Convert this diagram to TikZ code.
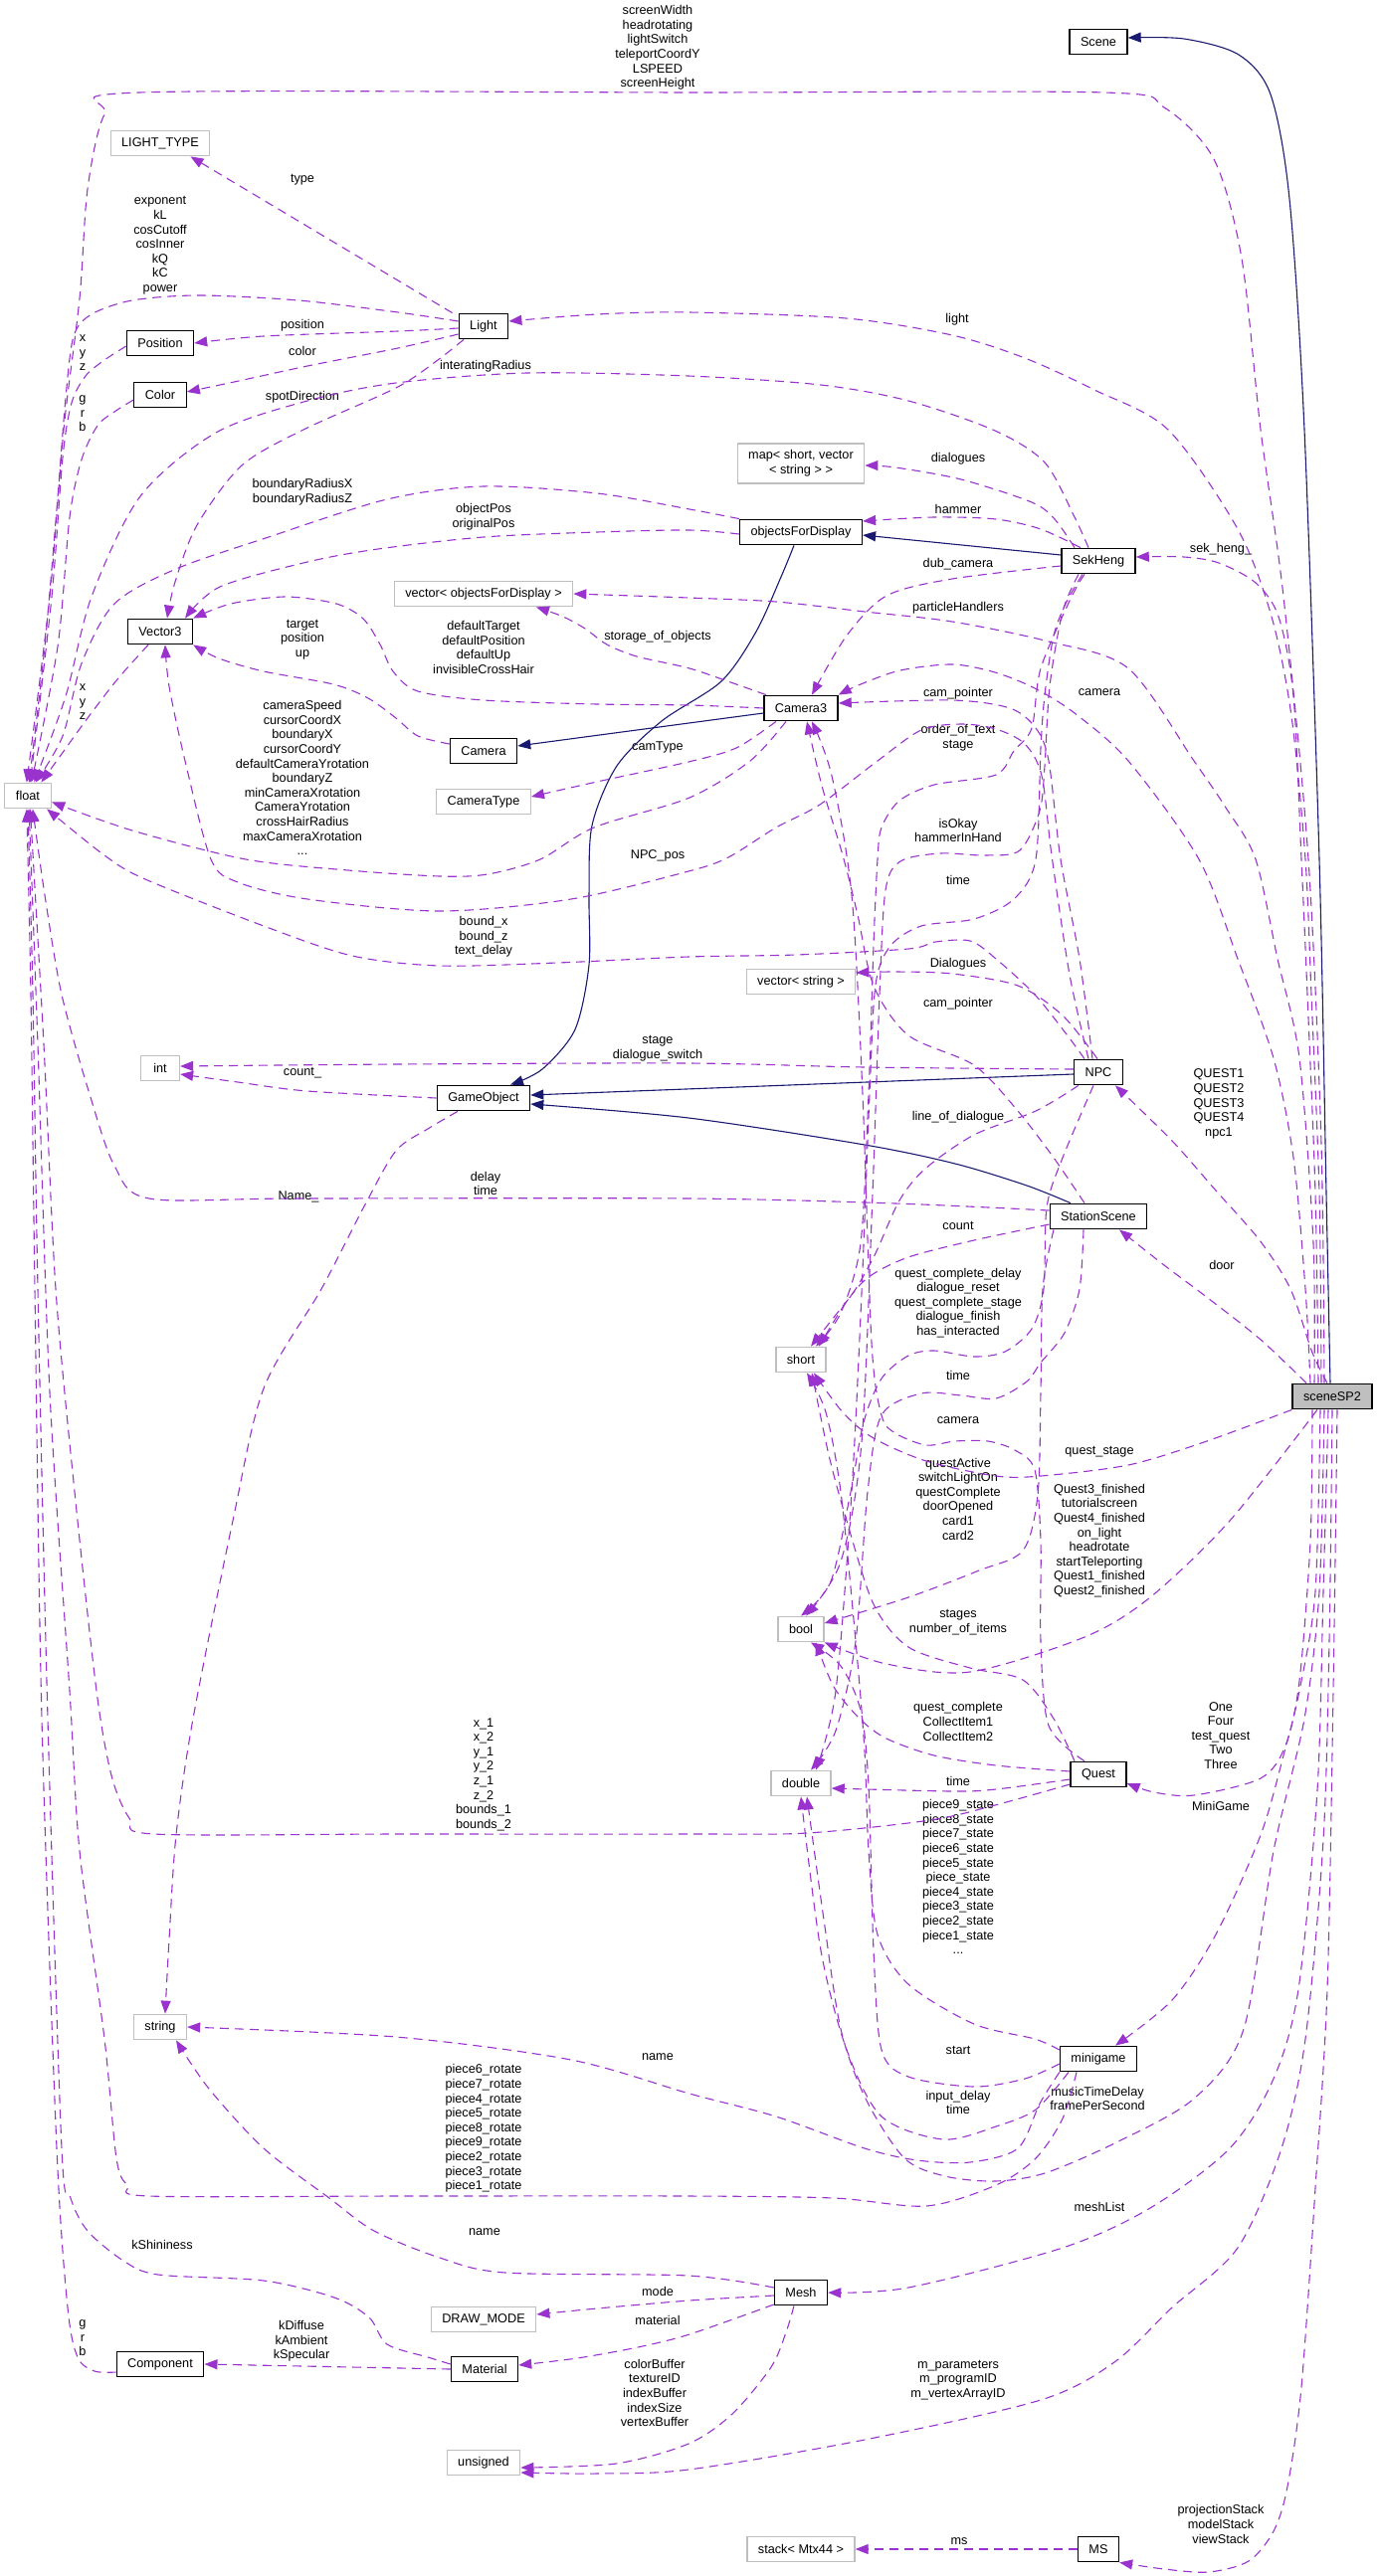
\documentclass[tikz,border=0pt]{standalone}
\usepackage{fontspec}
\setmainfont{Liberation Sans}
\usetikzlibrary{arrows.meta}
\definecolor{edgepurple}{HTML}{9A32CD}
\definecolor{edgenavy}{HTML}{191970}
\definecolor{boxgray}{HTML}{BFBFBF}

\begin{document}
\begin{tikzpicture}[x=1pt,y=-1pt,font=\fontsize{12.7}{14.6}\selectfont]
\tikzstyle{cls}=[draw=black,line width=1.3pt,fill=white,minimum height=25.5pt,inner xsep=11pt,inner ysep=0pt]
\tikzstyle{ext}=[cls,draw=boxgray]
\tikzstyle{lbl}=[align=center,inner sep=0pt]
\tikzstyle{usage}=[draw=edgepurple,line width=1.1pt,dash pattern=on 9pt off 6pt,-{Triangle[length=13pt,width=10pt]}]
\tikzstyle{inherit}=[draw=edgenavy,line width=1.1pt,-{Triangle[length=13pt,width=10pt]}]
\tikzstyle{sm}=[smooth,tension=0.5]
\useasboundingbox (0,0) rectangle (1385,2590);

% classes and types
\node[cls] (scene) at (1104,42) {Scene};
\node[ext] (lighttype) at (161,144) {LIGHT\_TYPE};
\node[cls] (light) at (486,328) {Light};
\node[cls] (position) at (161,345) {Position};
\node[cls] (color) at (161,397) {Color};
\node[ext,align=center,minimum height=40pt,inner ysep=3pt] (map) at (805,466) {map< short, vector\\< string > >};
\node[cls] (objd) at (805,535) {objectsForDisplay};
\node[cls] (sekheng) at (1104,564) {SekHeng};
\node[ext] (vecobj) at (486,597) {vector< objectsForDisplay >};
\node[cls] (vector3) at (161,635) {Vector3};
\node[cls] (camera3) at (805,712) {Camera3};
\node[cls] (camera) at (486,755) {Camera};
\node[ext,minimum width=47pt] (float) at (28,800) {float};
\node[ext] (cameratype) at (486,806) {CameraType};
\node[ext] (vecstr) at (805,987) {vector< string >};
\node[ext,minimum width=39pt] (int) at (161,1074) {int};
\node[cls] (npc) at (1104,1078) {NPC};
\node[cls] (gameobject) at (486,1104) {GameObject};
\node[cls] (station) at (1104,1223) {StationScene};
\node[ext] (short) at (805,1367) {short};
\node[cls,fill=boxgray] (scenesp2) at (1339,1404) {sceneSP2};
\node[ext] (bool) at (805,1638) {bool};
\node[cls] (quest) at (1104,1784) {Quest};
\node[ext] (double) at (805,1793) {double};
\node[ext] (string) at (161,2038) {string};
\node[cls] (minigame) at (1104,2070) {minigame};
\node[cls] (mesh) at (805,2305) {Mesh};
\node[ext] (drawmode) at (486,2332) {DRAW\_MODE};
\node[cls] (component) at (161,2377) {Component};
\node[cls] (material) at (487,2382) {Material};
\node[ext] (unsigned) at (486,2476) {unsigned};
\node[ext] (stack) at (805,2563) {stack< Mtx44 >};
\node[cls] (ms) at (1104,2563) {MS};

% member labels
\node[lbl] (lscreen) at (661,48) {screenWidth\\headrotating\\lightSwitch\\teleportCoordY\\LSPEED\\screenHeight};
\node[lbl] (ltype) at (304,181) {type};
\node[lbl] (lexp) at (161,247) {exponent\\kL\\cosCutoff\\cosInner\\kQ\\kC\\power};
\node[lbl] (lpos) at (304,327) {position};
\node[lbl] (lcol) at (304,353) {color};
\node[lbl] (llight) at (962,321) {light};
\node[lbl] (lrad) at (488,368) {interatingRadius};
\node[lbl] (lspot) at (304,399) {spotDirection};
\node[lbl] (lxyza) at (83,355) {x\\y\\z};
\node[lbl] (lgrba) at (83,416) {g\\r\\b};
\node[lbl] (ldia) at (963,461) {dialogues};
\node[lbl] (lbnd) at (304,495) {boundaryRadiusX\\boundaryRadiusZ};
\node[lbl] (lham) at (963,512) {hammer};
\node[lbl] (lobj) at (486,520) {objectPos\\originalPos};
\node[lbl] (lsek) at (1227,552) {sek\_heng\_};
\node[lbl] (ldub) at (963,567) {dub\_camera};
\node[lbl] (lpart) at (963,611) {particleHandlers};
\node[lbl] (ltgt) at (304,643) {target\\position\\up};
\node[lbl] (lstor) at (661,640) {storage\_of\_objects};
\node[lbl] (ldef) at (486,651) {defaultTarget\\defaultPosition\\defaultUp\\invisibleCrossHair};
\node[lbl] (lxyzb) at (83,706) {x\\y\\z};
\node[lbl] (lcpa) at (963,697) {cam\_pointer};
\node[lbl] (lcama) at (1105,696) {camera};
\node[lbl] (lord) at (963,742) {order\_of\_text\\stage};
\node[lbl] (lctype) at (661,751) {camType};
\node[lbl] (lspeed) at (304,782) {cameraSpeed\\cursorCoordX\\boundaryX\\cursorCoordY\\defaultCameraYrotation\\boundaryZ\\minCameraXrotation\\CameraYrotation\\crossHairRadius\\maxCameraXrotation\\...};
\node[lbl] (lok) at (963,835) {isOkay\\hammerInHand};
\node[lbl] (lnpos) at (661,860) {NPC\_pos};
\node[lbl] (ltima) at (963,885) {time};
\node[lbl] (lbx) at (486,942) {bound\_x\\bound\_z\\text\_delay};
\node[lbl] (lDia) at (963,969) {Dialogues};
\node[lbl] (lcpb) at (963,1009) {cam\_pointer};
\node[lbl] (lstage) at (661,1054) {stage\\dialogue\_switch};
\node[lbl] (lcnt) at (304,1079) {count\_};
\node[lbl] (lquest) at (1225,1110) {QUEST1\\QUEST2\\QUEST3\\QUEST4\\npc1};
\node[lbl] (lline) at (963,1123) {line\_of\_dialogue};
\node[lbl] (ldelay) at (488,1190) {delay\\time};
\node[lbl] (lname) at (300,1203) {Name\_};
\node[lbl] (lcount) at (963,1232) {count};
\node[lbl] (ldoor) at (1228,1272) {door};
\node[lbl] (lqcd) at (963,1310) {quest\_complete\_delay\\dialogue\_reset\\quest\_complete\_stage\\dialogue\_finish\\has\_interacted};
\node[lbl] (ltimb) at (963,1383) {time};
\node[lbl] (lcamb) at (963,1428) {camera};
\node[lbl] (lqst) at (1105,1460) {quest\_stage};
\node[lbl] (lact) at (963,1507) {questActive\\switchLightOn\\questComplete\\doorOpened\\card1\\card2};
\node[lbl] (lfin) at (1105,1549) {Quest3\_finished\\tutorialscreen\\Quest4\_finished\\on\_light\\headrotate\\startTeleporting\\Quest1\_finished\\Quest2\_finished};
\node[lbl] (lstg) at (963,1631) {stages\\number\_of\_items};
\node[lbl] (lqc) at (963,1731) {quest\_complete\\CollectItem1\\CollectItem2};
\node[lbl] (lone) at (1227,1745) {One\\Four\\test\_quest\\Two\\Three};
\node[lbl] (lx1) at (486,1784) {x\_1\\x\_2\\y\_1\\y\_2\\z\_1\\z\_2\\bounds\_1\\bounds\_2};
\node[lbl] (ltimc) at (963,1791) {time};
\node[lbl] (lmini) at (1227,1816) {MiniGame};
\node[lbl] (lpst) at (963,1887) {piece9\_state\\piece8\_state\\piece7\_state\\piece6\_state\\piece5\_state\\piece\_state\\piece4\_state\\piece3\_state\\piece2\_state\\piece1\_state\\...};
\node[lbl] (lstart) at (963,2061) {start};
\node[lbl] (lnamea) at (661,2068) {name};
\node[lbl] (lmus) at (1103,2110) {musicTimeDelay\\framePerSecond};
\node[lbl] (linp) at (963,2114) {input\_delay\\time};
\node[lbl] (lrot) at (486,2140) {piece6\_rotate\\piece7\_rotate\\piece4\_rotate\\piece5\_rotate\\piece8\_rotate\\piece9\_rotate\\piece2\_rotate\\piece3\_rotate\\piece1\_rotate};
\node[lbl] (lmesh) at (1105,2219) {meshList};
\node[lbl] (lnameb) at (487,2244) {name};
\node[lbl] (lshin) at (163,2257) {kShininess};
\node[lbl] (lmode) at (661,2304) {mode};
\node[lbl] (lmat) at (661,2333) {material};
\node[lbl] (lgrbb) at (83,2351) {g\\r\\b};
\node[lbl] (lkd) at (303,2354) {kDiffuse\\kAmbient\\kSpecular};
\node[lbl] (lbuf) at (658,2406) {colorBuffer\\textureID\\indexBuffer\\indexSize\\vertexBuffer};
\node[lbl] (lprog) at (963,2393) {m\_parameters\\m\_programID\\m\_vertexArrayID};
\node[lbl] (lstk) at (1227,2538) {projectionStack\\modelStack\\viewStack};
\node[lbl] (lms) at (964,2555) {ms};

% inheritance
\draw[inherit] plot[sm] coordinates {([xshift=-2pt]scenesp2.north) (1333,1200) (1326,864) (1311,432) (1296,200) (1277,95) (1245,55) (1190,39) ([yshift=4pt]scene.east)};
\draw[inherit] ([yshift=6pt]sekheng.west) -- ([yshift=-3pt]objd.east);
\draw[inherit] plot[sm] coordinates {([xshift=-7pt]objd.south) (785,580) (760,635) (725,685) (665,725) (620,770) (595,830) (592,900) (592,970) (578,1035) (545,1075) ([xshift=27pt]gameobject.north)};
\draw[inherit] ([yshift=-5pt]camera3.west) -- ([yshift=5pt]camera.east);
\draw[inherit] ([yshift=-2pt]npc.west) -- ([yshift=3pt]gameobject.east);
\draw[inherit] plot[sm] coordinates {([xshift=-28pt]station.north) (1032,1192) (960,1170) (869,1151) (692,1124) ([yshift=-6pt]gameobject.east)};

% sceneSP2 members
\draw[usage] plot[sm] coordinates {([xshift=-8pt]scenesp2.north) (1328,1150) (1315,864) (1290,600) (1267,432) (1248,260) (1220,160) (1170,108) (1110,93) (700,93) (140,93) (105,115) (88,190) (80,300) (64,432) (50,600) (float.95)};
\draw[usage] plot[sm] coordinates {([xshift=-11pt]scenesp2.north) (1326,1200) (1318,1000) (1312,864) (1298,720) (1278,620) (1244,532) (1174,432) (1100,392) (1030,360) (957,337) (850,320) (692,314) (600,316) ([yshift=5pt]light.east)};
\draw[usage] plot[sm] coordinates {([xshift=-14pt]scenesp2.north) (1322,1200) (1314,1000) (1308,864) (1300,700) (1285,620) (1262,586) (1225,566) (1190,560) ([yshift=4pt]sekheng.east)};
\draw[usage] plot[sm] coordinates {([xshift=-18pt]scenesp2.north) (1320,1250) (1306,1064) (1284,964) (1262,864) (1232,812) (1200,765) (1134,672) (1054,645) (957,625) (869,615) (780,605) (692,601) (vecobj.east)};
\draw[usage] plot[sm] coordinates {([xshift=-22pt]scenesp2.north) (1312,1296) (1300,1164) (1280,1064) (1244,964) (1205,864) (1134,765) (1080,717) (1040,692) (1000,676) (957,668) (905,674) (865,688) (camera3.north east)};
\draw[usage] plot[sm] coordinates {([xshift=-5pt]scenesp2.north) (1319,1360) (1297,1296) (1266,1247) (1222,1197) (1178,1147) ([xshift=17pt]npc.south)};
\draw[usage] plot[sm] coordinates {([xshift=-26pt]scenesp2.north) (1266,1346) (1210,1302) (1170,1272) ([xshift=21pt]station.south)};
\draw[usage] plot[sm] coordinates {(scenesp2.south west) (1210,1450) (1134,1473) (1046,1484) (1001,1484) (931,1469) (878,1446) (847,1420) ([xshift=13pt]short.south)};
\draw[usage] plot[sm] coordinates {([xshift=-15pt]scenesp2.south) (1236,1529) (1156,1606) (1090,1646) (975,1681) (891,1673) (bool.south east)};
\draw[usage] plot[sm] coordinates {([xshift=-20pt]scenesp2.south) (1317,1550) (1306,1690) (1292,1755) (1267,1788) (1200,1805) (1160,1802) ([yshift=-9pt]quest.east)};
\draw[usage] plot[sm] coordinates {([xshift=-12pt]scenesp2.south) (1322,1600) (1306,1700) (1290,1765) (1267,1845) (1222,1945) (1178,2011) ([xshift=17pt]minigame.north)};
\draw[usage] plot[sm] coordinates {([xshift=-8pt]scenesp2.south) (1326,1600) (1311,1728) (1280,1861) (1250,2040) (1200,2110) (1120,2155) (1050,2185) (1000,2193) (950,2188) (909,2170) (870,2110) (845,2040) (828,1930) ([xshift=6pt]double.south)};
\draw[usage] plot[sm] coordinates {([xshift=-4pt]scenesp2.south) (1330,1600) (1324,1800) (1305,2000) (1280,2090) (1236,2160) (1156,2220) (1068,2260) (913,2300) (mesh.east)};
\draw[usage] plot[sm] coordinates {(scenesp2.south) (1336,1650) (1330,1850) (1312,2050) (1288,2160) (1244,2260) (1178,2320) (1120,2375) (1046,2413) (869,2453) (692,2483) (600,2487) ([yshift=-10pt]unsigned.east)};
\draw[usage] plot[sm] coordinates {([xshift=5pt]scenesp2.south) (1340,1700) (1334,2000) (1322,2200) (1308,2400) (1294,2500) (1280,2545) (1255,2575) (1215,2586) (1170,2583) (ms.south east)};
\draw[usage] (ms.west) -- (stack.east);

% Light
\draw[usage] ([xshift=-6pt]light.north west) -- ([xshift=-20pt]lighttype.south east);
\draw[usage] plot[sm] coordinates {([yshift=-2pt]light.west) (400,333) (265,338) (position.east)};
\draw[usage] plot[sm] coordinates {([yshift=-8pt]light.west) (400,350) (309,368) (240,383) ([yshift=3pt]color.east)};
\draw[usage] plot[sm] coordinates {([xshift=-20pt]light.south) (440,362) (398,390) (305,432) (243,468) (198,528) (176,585) ([xshift=7pt]vector3.north)};
\draw[usage] plot[sm] coordinates {([yshift=5pt]light.west) (400,314) (300,302) (200,297) (133,302) (92,316) (74,338) (66,400) (58,500) (45,650) (float.85)};
\draw[usage] plot[sm] coordinates {([yshift=-3pt]position.west) (105,362) (86,378) (72,405) (63,460) (52,600) (float.80)};
\draw[usage] plot[sm] coordinates {([yshift=-5pt]color.west) (115,414) (98,428) (82,462) (70,520) (58,650) (float.75)};

% objectsForDisplay, Camera3, Camera, Vector3
\draw[usage] plot[sm] coordinates {(objd.north west) (693,512) (600,496) (486,489) (389,502) (270,540) (177,572) (115,607) (82,667) (63,740) (float.60)};
\draw[usage] plot[sm] coordinates {([yshift=-2pt]objd.west) (693,533) (600,535) (486,540) (380,552) (309,565) (221,590) ([xshift=25pt]vector3.north)};
\draw[usage] plot[sm] coordinates {([xshift=-12pt]vector3.south) (118,683) (88,722) (62,758) (float.45)};
\draw[usage] plot[sm] coordinates {(camera3.west) (693,709) (600,708) (486,704) (420,695) (395,675) (382,648) (365,622) (338,607) (287,600) (232,607) (vector3.north east)};
\draw[usage] plot[sm] coordinates {([yshift=7pt]camera.west) (420,740) (398,722) (370,702) (335,688) (265,675) (220,662) (vector3.south east)};
\draw[usage] plot[sm] coordinates {([xshift=-35pt]camera3.north) (740,688) (693,672) (640,660) (610,648) (588,632) (566,620) ([xshift=53pt]vecobj.south)};
\draw[usage] plot[sm] coordinates {([xshift=-25pt]camera3.south) (740,752) (692,766) (600,786) ([yshift=5pt]cameratype.east)};
\draw[usage] plot[sm] coordinates {([xshift=-15pt]camera3.south) (754,765) (693,802) (597,832) (543,864) (490,879) (442,881) (350,875) (247,864) (133,835) (float.-15)};

% SekHeng
\draw[usage] plot[sm] coordinates {([xshift=-10pt]sekheng.north) (1080,520) (1050,465) (1000,433) (913,403) (825,387) (692,378) (530,375) (398,385) (309,403) (217,435) (141,499) (92,600) (66,700) (float.65)};
\draw[usage] plot[sm] coordinates {([xshift=-24pt]sekheng.north) (1060,522) (1037,505) (966,482) (900,470) ([yshift=-2pt]map.east)};
\draw[usage] plot[sm] coordinates {([xshift=-18pt]sekheng.north) (1046,532) (1001,522) (939,520) ([yshift=11pt]objd.east)};
\draw[usage] plot[sm] coordinates {([yshift=-5pt]sekheng.west) (957,582) (891,599) (851,639) ([xshift=11pt]camera3.north)};
\draw[usage] plot[sm] coordinates {([xshift=-14pt]sekheng.south) (1076,602) (1046,672) (1037,732) (1019,755) (1001,779) (939,789) (904,805) (886,832) (882,864) (878,950) (873,1100) (865,1250) (845,1320) ([xshift=15pt]short.north)};
\draw[usage] plot[sm] coordinates {([xshift=-20pt]sekheng.south) (1068,615) (1055,690) (1050,770) (1045,815) (1025,855) (990,860) (945,858) (905,866) (890,895) (884,1000) (877,1200) (866,1450) (845,1570) ([xshift=5pt]bool.north)};
\draw[usage] plot[sm] coordinates {([xshift=-16pt]sekheng.south) (1072,605) (1059,639) (1050,699) (1046,752) (1041,864) (1019,904) (979,924) (926,931) (895,951) (880,990) (874,1100) (866,1300) (856,1500) (840,1700) ([xshift=15pt]double.north)};

% NPC
\draw[usage] plot[sm] coordinates {([xshift=-14pt]npc.north) (1072,1040) (1040,1000) (1001,964) (975,946) (940,947) (913,954) (800,960) (692,962) (560,968) (442,971) (354,961) (265,931) (146,884) (105,860) (float.-35)};
\draw[usage] plot[sm] coordinates {([xshift=-10pt]npc.north) (1075,980) (1057,860) (1047,780) (1030,748) (1001,733) (966,728) (926,734) (882,765) (824,809) (780,832) (732,862) (692,876) (574,904) (442,916) (309,904) (239,887) (212,864) (186,765) (170,690) ([xshift=5pt]vector3.south)};
\draw[usage] plot[sm] coordinates {([xshift=-6pt]npc.north) (1085,964) (1066,864) (1054,765) (1041,732) (1015,712) (957,704) ([yshift=5pt]camera3.east)};
\draw[usage] plot[sm] coordinates {([xshift=-1pt]npc.north) (1068,1021) (1023,991) (957,979) (900,977) ([yshift=9pt]vecstr.east)};
\draw[usage] plot[sm] coordinates {([yshift=3pt]npc.west) (869,1073) (692,1069) (400,1070) ([yshift=2pt]int.east)};
\draw[usage] plot[sm] coordinates {([xshift=-20pt]npc.south) (1041,1117) (979,1141) (930,1175) (904,1207) (880,1260) (860,1296) (840,1322) ([xshift=10pt]short.north)};
\draw[usage] plot[sm] coordinates {([xshift=-5pt]npc.south) (1068,1164) (1052,1214) (1049,1296) (1037,1336) (1010,1359) (979,1364) (939,1358) (913,1363) (886,1386) (868,1430) (855,1500) (835,1590) (bool.north)};

% StationScene
\draw[usage] plot[sm] coordinates {([yshift=6pt]station.west) (900,1210) (692,1205) (300,1205) (150,1205) (115,1172) (90,1100) (62,1000) (45,900) (float.-70)};
\draw[usage] plot[sm] coordinates {([xshift=-14pt]station.north) (1059,1164) (1023,1117) (979,1071) (913,1041) (878,991) (862,920) (847,860) (826,790) ([xshift=6pt]camera3.south)};
\draw[usage] plot[sm] coordinates {([yshift=-8pt]station.west) (979,1247) (913,1264) (873,1284) (850,1310) ([xshift=18pt]short.north)};
\draw[usage] plot[sm] coordinates {([xshift=-15pt]station.south) (1085,1296) (1070,1340) (1046,1370) (1032,1389) (1001,1406) (966,1403) (926,1401) (886,1423) (872,1500) (860,1650) (840,1740) ([xshift=10pt]double.north)};
\draw[usage] plot[sm] coordinates {([xshift=-45pt]station.south) (1048,1296) (1046,1400) (1043,1503) (1028,1559) (984,1579) (913,1606) ([yshift=6pt]bool.east)};

% Quest
\draw[usage] plot[sm] coordinates {([xshift=-14pt]quest.north) (1054,1735) (1046,1650) (1046,1550) (1040,1478) (1020,1458) (993,1449) (960,1449) (931,1453) (900,1441) (886,1423) (876,1350) (867,1100) (856,900) (836,780) ([xshift=11pt]camera3.south)};
\draw[usage] plot[sm] coordinates {([xshift=-24pt]quest.north) (1059,1728) (1028,1689) (975,1677) (913,1656) (878,1613) (851,1529) (833,1463) ([xshift=11pt]short.south)};
\draw[usage] plot[sm] coordinates {([yshift=3pt]quest.west) (1001,1775) (939,1765) (891,1748) (864,1728) (838,1696) ([xshift=15pt]bool.south)};
\draw[usage] plot[sm] coordinates {([yshift=-5pt]quest.west) (1001,1799) (957,1801) ([yshift=-5pt]double.east)};
\draw[usage] plot[sm] coordinates {([yshift=-10pt]quest.west) (1000,1815) (935,1830) (811,1843) (692,1844) (400,1844) (155,1844) (130,1828) (112,1785) (97,1700) (75,1500) (56,1296) (44,1050) (float.-80)};

% minigame
\draw[usage] plot[sm] coordinates {([yshift=9pt]minigame.west) (1040,2050) (979,2035) (913,1995) (882,1945) (873,1861) (869,1761) (860,1650) (845,1500) (830,1420) ([xshift=6pt]short.south)};
\draw[usage] plot[sm] coordinates {([yshift=-5pt]minigame.west) (1030,2090) (979,2098) (913,2088) (886,2061) (878,1961) (873,1795) (865,1720) (845,1675) ([xshift=10pt]bool.south)};
\draw[usage] plot[sm] coordinates {([xshift=-30pt]minigame.south) (1041,2121) (1001,2138) (948,2151) (886,2128) (851,2061) (825,1961) (double.south)};
\draw[usage] plot[sm] coordinates {(minigame.south west) (1045,2115) (1023,2160) (975,2174) (922,2172) (869,2160) (780,2128) (693,2105) (574,2071) (398,2048) (string.east)};
\draw[usage] plot[sm] coordinates {([xshift=-22pt]minigame.south) (1068,2130) (1041,2170) (1001,2197) (931,2218) (838,2210) (692,2208) (400,2208) (150,2208) (128,2197) (117,2170) (105,2050) (80,1861) (70,1700) (50,1400) (38,1050) (float.-85)};

% Mesh, Material, Component
\draw[usage] plot[sm] coordinates {([yshift=5pt]mesh.west) (692,2288) (508,2285) (442,2270) (376,2243) (331,2210) (265,2160) (210,2100) ([xshift=16pt]string.south)};
\draw[usage] plot[sm] coordinates {([yshift=-3pt]mesh.west) (693,2313) (600,2321) ([yshift=5pt]drawmode.east)};
\draw[usage] plot[sm] coordinates {([yshift=-12pt]mesh.west) (693,2347) (641,2360) (580,2371) ([yshift=4pt]material.east)};
\draw[usage] plot[sm] coordinates {([xshift=-7pt]mesh.south) (790,2345) (775,2380) (736,2427) (692,2457) (619,2477) ([yshift=-5pt]unsigned.east)};
\draw[usage] (material.west) -- (component.east);
\draw[usage] plot[sm] coordinates {([yshift=5pt]material.west) (430,2370) (389,2357) (371,2330) (336,2310) (265,2293) (159,2287) (124,2273) (88,2243) (71,2210) (62,2160) (48,1728) (38,1296) (33,1000) (float.-90)};
\draw[usage] plot[sm] coordinates {([yshift=-8pt]component.west) (95,2384) (78,2370) (68,2320) (57,2160) (42,1728) (35,1296) (31,1000) (float.-95)};

% GameObject
\draw[usage] plot[sm] coordinates {(gameobject.west) (309,1097) (239,1088) ([yshift=-6pt]int.east)};
\draw[usage] plot[sm] coordinates {([xshift=-26pt]gameobject.south) (430,1135) (398,1157) (367,1211) (323,1296) (265,1396) (234,1529) (194,1728) (177,1845) (170,1950) ([xshift=5pt]string.north)};
\end{tikzpicture}
\end{document}
